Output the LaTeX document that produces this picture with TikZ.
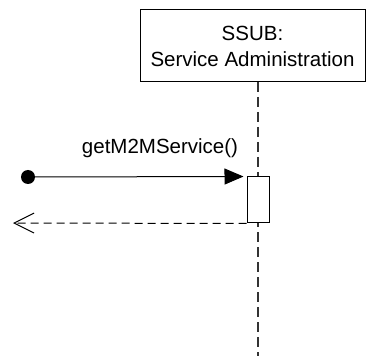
\documentclass[tikz,border=0pt]{standalone}
\usepackage{fontspec}
\setmainfont{Liberation Sans}
\usepackage{tikz}
\usetikzlibrary{arrows.meta,positioning}

\tikzset{
  lifebox/.style={draw,line width=1pt,fill=white,minimum width=225pt,minimum height=72pt,
    align=center,inner sep=0pt,font=\fontsize{20.5}{26}\selectfont},
  actbox/.style={draw,line width=1pt,fill=white,minimum width=22pt,minimum height=46pt,inner sep=0pt},
  lifeline/.style={line width=1.2pt,dash pattern=on 10pt off 5pt,black!80},
  msgline/.style={line width=1pt,shorten >=3pt,-{Triangle[length=19pt,width=16pt]}},
  retline/.style={line width=1pt,dash pattern=on 8pt off 5pt,-{Straight Barb[length=20pt,width=20pt,line width=1pt]}},
  msglabel/.style={font=\fontsize{20.5}{26}\selectfont}
}

\begin{document}
\begin{tikzpicture}[x=1pt,y=1pt]
				\useasboundingbox (0,0) rectangle (366,356);
				
				% lifeline
				\coordinate (lifetop) at (258,274);
				\coordinate (lifeend) at (258,0);
				\draw[lifeline] (lifetop)--(lifeend);
				
				\node[lifebox] (ssub) at (252.5,310) {SSUB:\\Service Administration};
				\node[actbox] (act) at (258,156) {};
				
				% call
				\node[circle,fill=black,minimum size=14pt,inner sep=0pt] (start) at (28,179) {};
				\draw[msgline] (start.center)--(act.north west);
				\node[msglabel] (call) at (160,208) {getM2MService()};
				
				% return
				\coordinate (retend) at (13,133);
				\draw[retline] (act.south west)--(retend);
\end{tikzpicture}
\end{document}
